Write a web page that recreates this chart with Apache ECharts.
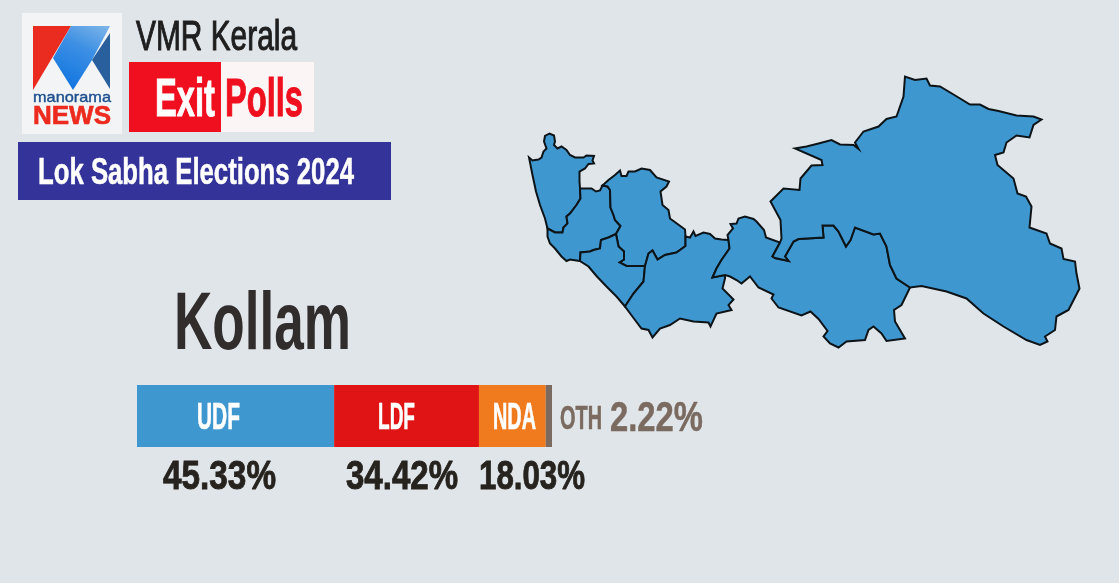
<!DOCTYPE html>
<html>
<head>
<meta charset="utf-8">
<title>Kollam exit poll</title>
<script src="https://cdn.jsdelivr.net/npm/echarts@6/dist/echarts.min.js"></script>
<style>
  html, body { margin: 0; padding: 0; background: #e0e5e9; }
  #chart { width: 1119px; height: 583px; }
</style>
</head>
<body>
<div id="chart"></div>
<script>
const seatName = 'Kollam'
const blocs = ['UDF', 'LDF', 'NDA', 'OTH']
// printed figures
const voteLabels = ['45.33%', '34.42%', '18.03%', '2.22%']
// segment lengths as drawn in the picture, they differ a bit from the printed figures
const barLengths = [47.5, 34.9, 16.1, 1.5]
const blocColors = ['#3f97d0', '#e01414', '#f07a1e', '#7a6a60']

// assembly segment outlines
const arcAB = [[580,188.5],[580.5,198.5],[576.5,205],[570,213.5],[566.5,216.5],[567.5,223.5],[563.5,227.5],[562.5,232.5],[555,232.5],[547.5,228.5]]
const arcBD = [[580,261],[580.5,252.5],[590,251.5],[593.5,250],[600,248.5],[601,240],[608.5,237.5],[616,234]]
const arcBC = [[616,234],[620.5,226],[615,220],[613.5,215],[610.5,207.5],[610,190],[607.5,186.5],[602.5,185.5]]
const arcCE = [[685.5,236.5],[685.5,246],[676.5,252.5],[665,255],[657.5,259.5],[652.5,250.5],[648.5,253.5],[645,266]]
const arcCD = [[645,266],[626.5,266],[619.5,262.5],[624,259.5],[624,251.5],[618.5,246.5],[616,234]]
const arcDE = [[625,306.5],[633.5,293.5],[643.5,281.5],[645,266]]
const arcEF = [[728.5,240],[729.5,248.5],[721.5,260],[716.5,268.5],[712.5,277.5],[725,275]]
const arcFG = [[780,242.5],[772.5,256.5],[775,258],[788.5,261],[785,256.5],[793.5,241.5],[798.5,239],[823.5,237.5],[822.5,225.5],[833.5,225.5],[838.5,231.5],[846,246.5],[850.5,240],[855,227.5],[873.5,234.5],[880,233.5],[886.5,246.5],[890,265],[896.5,278.5],[910,287.5]]

const ringA = [[529,157.5],[532.5,160.5],[535,160],[538.5,159.5],[541.5,157.5],[543.5,151.5],[546.5,148.5],[544,141.5],[545,136],[549.5,133.5],[554,135.5],[555,141.5],[554,145],[557.5,148.5],[561.5,146.5],[566.5,150],[570,155],[575,157.5],[583.5,157.5],[586.5,155.5],[594,156],[592.5,160.5],[594,163.5],[588.5,164],[585,168.5],[579.5,171.5],[579.5,181.5],
  ...arcAB,[545,218.5],[540,205],[536,191.5],[532.5,175]]
const ringB = [[547.5,228.5],[547.5,236.5],[550,243.5],[555,248.5],[561.5,256.5],[566.5,261],[570,259.5],
  ...arcBD,...arcBC.slice(1),[600,190.5],[596,191.5],[591.5,188.5],...arcAB]
const ringC = [[602.5,185.5],[608.5,180],[615,175],[620,170.5],[621.5,176],[626.5,176],[628.5,171.5],[635,171.5],[641.5,168.5],[650,170],[656.5,177.5],[669,181.5],[666.5,186.5],[660.5,191.5],[662.5,205],[668.5,210],[670,218.5],[685,229.5],
  ...arcCE,...arcCD.slice(1),...arcBC.slice(1)]
const ringD = [[588.5,266.5],[596.5,276],[606.5,286.5],[616.5,296.5],...arcDE,...arcCD.slice(1),...[...arcBD].reverse().slice(1)]
const ringE = [arcCE[0],[690,237.5],[693.5,231.5],[695.5,236],[703.5,232.5],[710,234],[715,238.5],[721.5,239.5],...arcEF,[725,278.5],[722.5,288.5],[733.5,299.5],[728.5,305],[731.5,310],[716.5,313.5],[710.5,326.5],[708.5,322.5],[693.5,321.5],[680,318.5],[670,325],[660,328.5],[652.5,337.5],[648.5,330],[641.5,328.5],[635,320],
  ...arcDE,...[...arcCE].reverse().slice(1)]
const ringF = [[728.5,240],[727.5,235],[733,228.5],[730.5,224],[736.5,223.5],[738.5,218.5],[745,216.5],[753.5,219],[756.5,221.5],[764,230],[766,237.5],
  ...arcFG,[901.5,305],[894,310],[895,321.5],[905,338.5],[886.5,341],[881.5,333.5],[873.5,326.5],[868.5,330],[865,340],[846.5,341.5],[838.5,347.5],[830,343.5],[823.5,336.5],[827.5,331],[818.5,319],[810.5,311.5],[801.5,315.5],[778.5,307.5],[771.5,298.5],[773.5,294.5],[758.5,287.5],[750,276.5],[741.5,283.5],[736.5,280],[730,276.5],
  ...[...arcEF].reverse()]
const ringG = [[780,242.5],[781.5,238.5],[780.5,220],[770.5,201.5],[783.5,188.5],[799.5,190],[800.5,178.5],[811.5,165.5],[822.5,165],[821.5,160],[795,148.5],[806.5,146.5],[818.5,143.5],[831.5,140],[840,144.5],[853.5,145],[858.5,149],[855,142.5],[863.5,131.5],[878.5,126.5],[886.5,119],[896.5,116.5],[903.5,96.5],[905,76.5],[915,80],[926.5,78.5],[930,85.5],[940,86.5],[953.5,94.5],[970,104.5],[980,104.5],[988.5,109],[998.5,111],[1016.5,115.5],[1033.5,116.5],[1041.5,119.5],[1033.5,125],[1029.5,137.5],[1016.5,135.5],[1006.5,142.5],[1003.5,152.5],[995,155],[997.5,165],[1013.5,178.5],[1017.5,193.5],[1026,196.5],[1031.5,206.5],[1029.5,227.5],[1046.5,233.5],[1050,243.5],[1061.5,248.5],[1063.5,259],[1075,261.5],[1076.5,273.5],[1079.5,288.5],[1068.5,310],[1056.5,316.5],[1055,330],[1045,336.5],[1047.5,341.5],[1040,345],[1026.5,340],[1003.5,326.5],[983.5,313.5],[966.5,298.5],[946.5,291.5],[921.5,286],
  ...[...arcFG].reverse()]
const segments = [ringA, ringB, ringC, ringD, ringE, ringF, ringG]

const toFeature = (ring, i) => ({
  type: 'Feature',
  properties: { name: 'segment' + i },
  geometry: { type: 'Polygon', coordinates: [ring.map(([x, y]) => [x, -y])] }
})
echarts.registerMap('kollam', { type: 'FeatureCollection', features: segments.map(toFeature) })

// text squeezed to a target width, no condensed face here. thick = extra stroke to fatten it
const measure = document.createElement('canvas').getContext('2d')
const fitText = (text, x, y, width, size, weight, fill, thick) => {
  const font = `${weight} ${size}px "Liberation Sans"`
  measure.font = font
  return {
    type: 'text', x, y, z: 10,
    scaleX: width / measure.measureText(text).width,
    style: { text, font, fill, stroke: thick ? fill : null, lineWidth: thick || 0, textBaseline: 'middle', verticalAlign: 'middle' }
  }
}
const box = (x, y, width, height, fill) => ({ type: 'rect', shape: { x: 0, y: 0, width, height }, x, y, style: { fill } })
const poly = (points, fill) => ({ type: 'polygon', shape: { points }, style: { fill } })

const chart = echarts.init(document.getElementById('chart'))
chart.setOption({
  animation: false,
  backgroundColor: '#e0e5e9',
  grid: { left: 137, width: 415, top: 385, height: 62 },
  xAxis: { type: 'value', min: 0, max: 100, show: false },
  yAxis: { type: 'category', data: [seatName], show: false },
  geo: {
    map: 'kollam',
    left: 529, top: 76.5, width: 550.5, height: 271,
    aspectScale: 1,
    roam: false,
    silent: true,
    label: { show: false },
    itemStyle: { areaColor: '#3f97d0', borderColor: '#0d1418', borderWidth: 2 }
  },
  series: blocs.map((name, i) => ({
    name,
    type: 'bar',
    stack: 'vote',
    barWidth: '100%',
    silent: true,
    data: [barLengths[i]],
    itemStyle: { color: blocColors[i] }
  })),
  graphic: [
    // logo
    box(22, 13, 100, 121, '#f2f4f5'),
    poly([[33, 26], [71, 26], [33, 90]], '#ea2b1f'),
    poly([[71, 26], [110, 26], [92, 60], [73, 90], [53, 58]], {
      type: 'linear', x: 1, y: 0, x2: 0.45, y2: 1,
      colorStops: [{ offset: 0, color: '#7fb6e8' }, { offset: 0.45, color: '#3c8fe4' }, { offset: 1, color: '#1477e0' }]
    }),
    poly([[110, 33], [110, 89], [92, 60]], '#2a5f9e'),
    fitText('manorama', 33, 98, 78, 15, 'normal', '#1c4f8f', 0.4),
    fitText('NEWS', 33, 117, 78, 25, 'bold', '#ec2a1e', 0.6),
    // header
    fitText('VMR Kerala', 136, 38.5, 161, 43, 'normal', '#1e1e1e', 1.1),
    box(129, 62, 92, 70, '#f00f1e'),
    box(221, 62, 93, 70, '#fbf5f5'),
    fitText('Exit', 155, 101, 60, 54, 'bold', '#ffffff', 1),
    fitText('Polls', 225, 101, 78, 54, 'bold', '#f00f1e', 1),
    box(18, 142, 373, 58, '#333399'),
    fitText('Lok Sabha Elections 2024', 38, 174, 316, 37, 'bold', '#ffffff', 0.5),
    fitText(seatName, 174, 326, 177, 82, 'bold', '#322d2d'),
    // bar labels
    fitText(blocs[0], 197, 419, 43, 36, 'bold', '#ffffff', 0.6),
    fitText(blocs[1], 378, 419, 37, 36, 'bold', '#ffffff', 0.6),
    fitText(blocs[2], 493, 419, 43, 36, 'bold', '#ffffff', 0.6),
    fitText(blocs[3], 560, 420, 42, 33, 'bold', blocColors[3], 0.6),
    fitText(voteLabels[3], 610, 419, 93, 43, 'bold', blocColors[3], 0.5),
    fitText(voteLabels[0], 163, 477.5, 113, 41, 'bold', '#26231f', 0.9),
    fitText(voteLabels[1], 346, 477.5, 112, 41, 'bold', '#26231f', 0.9),
    fitText(voteLabels[2], 479, 477.5, 106, 41, 'bold', '#26231f', 0.9)
  ]
})
</script>
</body>
</html>
